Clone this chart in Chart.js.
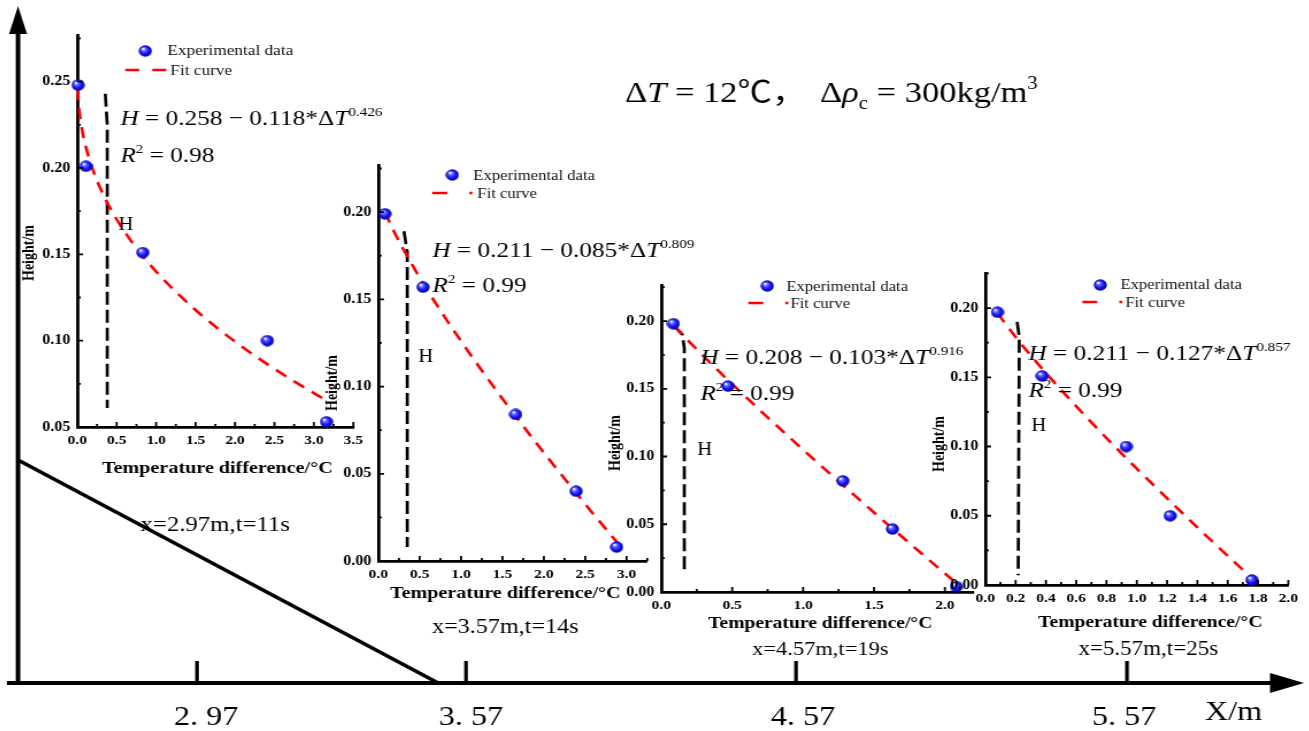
<!DOCTYPE html>
<html>
<head>
<meta charset="utf-8">
<script src="https://cdn.jsdelivr.net/npm/chart.js@4.4.1/dist/chart.umd.min.js"></script>
<style>
  html, body { margin: 0; padding: 0; background: #fff; }
  body { width: 1309px; height: 731px; overflow: hidden; position: relative; }
  canvas { position: absolute; transform-origin: 0 0; }
</style>
</head>
<body>
<canvas id="frame"></canvas>
<canvas id="c1"></canvas>
<canvas id="c2"></canvas>
<canvas id="c3"></canvas>
<canvas id="c4"></canvas>
<script>
// ---- data ----
const deltaT = 12;          // temperature difference, °C
const deltaRho = 300;       // density difference, kg/m3
const stations = ['2. 97', '3. 57', '4. 57', '5. 57'];
const captions = ['x=2.97m,t=11s', 'x=3.57m,t=14s', 'x=4.57m,t=19s', 'x=5.57m,t=25s'];

// measured height vs temperature difference at each station
const dT1 = [0.01, 0.11, 0.83, 2.41, 3.16];
const h1  = [0.248, 0.201, 0.151, 0.100, 0.053];
const dT2 = [0.08, 0.54, 1.66, 2.39, 2.88];
const h2  = [0.199, 0.157, 0.084, 0.040, 0.008];
const dT3 = [0.085, 0.47, 1.28, 1.63, 2.08];
const h3  = [0.198, 0.152, 0.082, 0.0465, 0.004];
const dT4 = [0.08, 0.375, 0.93, 1.22, 1.76];
const h4  = [0.197, 0.151, 0.100, 0.050, 0.0036];

// power-law fits H = a - b * dT^n
const fitA  = [0.258, 0.211, 0.208, 0.211];
const fitB  = [0.118, 0.085, 0.103, 0.127];
const fitN  = [0.426, 0.809, 0.916, 0.857];
const fitR2 = [0.98, 0.99, 0.99, 0.99];

// dT values where each fit curve is sampled
const fitT1 = [0.005, 0.02, 0.05, 0.1, 0.15, 0.2, 0.3, 0.4, 0.5, 0.65, 0.8, 1.0, 1.25, 1.5, 1.75, 2.0, 2.25, 2.5, 2.75, 3.0, 3.15];
const fitT2 = [0.08, 0.2, 0.4, 0.7, 1.0, 1.5, 2.0, 2.5, 2.9];
const fitT3 = [0.09, 0.2, 0.4, 0.7, 1.0, 1.5, 2.0, 2.08];
const fitT4 = [0.08, 0.2, 0.4, 0.7, 1.0, 1.4, 1.8];

// dashed marker of the current height H (dT, height)
const hT1 = [0.355, 0.38, 0.38];
const hH1 = [0.243, 0.225, 0.061];
const hT2 = [0.31, 0.35, 0.35];
const hH2 = [0.189, 0.177, 0.008];
const hT3 = [0.085, 0.148, 0.162, 0.162];
const hH3 = [0.197, 0.190, 0.180, 0.015];
const hT4 = [0.21, 0.224, 0.217];
const hH4 = [0.190, 0.179, 0.007];

// ---- drawing helpers ----
const S = 1.15; // horizontal stretch of the whole figure
const SERIF = "'Liberation Serif', 'Times New Roman', 'Noto Sans CJK SC', serif";

function drawRuns(ctx, runs, x, y, size) {
  ctx.textAlign = 'left';
  ctx.textBaseline = 'alphabetic';
  for (const [text, kind] of runs) {
    let fs = size, dy = 0, style = '';
    if (kind === 'i') style = 'italic ';
    if (kind === 'sup') { fs = size * 0.6; dy = -size * 0.42; }
    if (kind === 'sub') { fs = size * 0.6; dy = size * 0.22; }
    ctx.font = style + fs + 'px ' + SERIF;
    ctx.fillText(text, x, y + dy);
    x += ctx.measureText(text).width;
  }
}

function makeBall(w, h) {
  const c = document.createElement('canvas');
  c.width = w; c.height = h;
  const g = c.getContext('2d');
  const cx = w / 2, cy = h / 2, r = Math.min(w, h) / 2 - 0.3;
  const grad = g.createRadialGradient(cx - r * 0.35, cy - r * 0.4, r * 0.1, cx, cy, r);
  grad.addColorStop(0, '#f2f2ff');
  grad.addColorStop(0.25, '#6464ff');
  grad.addColorStop(0.65, '#1212f2');
  grad.addColorStop(1, '#0000a6');
  g.fillStyle = grad;
  g.beginPath(); g.arc(cx, cy, r, 0, Math.PI * 2); g.fill();
  return c;
}
const ball = makeBall(12, 12);

function placeCanvas(el, left, top, w, h) {
  el.width = w; el.height = h;
  el.style.left = left + 'px';
  el.style.top = top + 'px';
  el.style.width = w + 'px';
  el.style.height = h + 'px';
  el.style.transform = 'scaleX(' + S + ')';
}

// ---- page frame: distance axis, slope and header ----
const frameEl = document.getElementById('frame');
placeCanvas(frameEl, 0, 0, Math.ceil(1309 / S), 731);

const stationX = [197, 466, 796, 1127];
const stationLabelX = [206, 471, 803, 1124];

const framePlugin = {
  id: 'frame',
  afterDraw(chart) {
    const ctx = chart.ctx;
    const P = (x, y) => [x / S, y];
    ctx.save();
    ctx.strokeStyle = '#000';
    ctx.fillStyle = '#000';
    ctx.lineCap = 'butt';

    const line = (a, b, w) => {
      ctx.lineWidth = w;
      ctx.beginPath(); ctx.moveTo(...P(...a)); ctx.lineTo(...P(...b)); ctx.stroke();
    };
    const tri = (a, b, c) => {
      ctx.beginPath(); ctx.moveTo(...P(...a)); ctx.lineTo(...P(...b)); ctx.lineTo(...P(...c));
      ctx.closePath(); ctx.fill();
    };

    line([18, 685], [18, 30], 4);
    tri([18, 6], [9, 34], [27, 34]);
    line([7, 683], [1272, 683], 4);
    tri([1304, 683], [1270, 673], [1270, 693]);
    line([18, 460], [440, 684], 3.4);
    stationX.forEach(x => line([x, 683], [x, 661], 3.2));

    ctx.font = '28px ' + SERIF;
    ctx.textAlign = 'center';
    ctx.textBaseline = 'alphabetic';
    stations.forEach((s, i) => {
      const [x, y] = P(stationLabelX[i], 725);
      ctx.fillText(s, x, y);
    });
    ctx.textAlign = 'left';
    ctx.fillText('X/m', ...P(1205, 720));

    drawRuns(ctx, [['Δ', ''], ['T', 'i'], [' = ', ''], [deltaT + '℃', ''], ['，', '']], ...P(625, 102), 30);
    drawRuns(ctx, [['Δ', ''], ['ρ', 'i'], ['c', 'sub'], [' = ', ''], [deltaRho + 'kg/m', ''], ['3', 'sup']], ...P(820, 102), 30);
    ctx.restore();
  }
};

new Chart(frameEl, {
  type: 'scatter',
  data: { datasets: [] },
  options: {
    responsive: false,
    animation: false,
    events: [],
    plugins: { legend: { display: false }, tooltip: { enabled: false } },
    scales: { x: { display: false }, y: { display: false } }
  },
  plugins: [framePlugin]
});

// ---- the four profile panels ----
const panels = [
  { id: 'c1', area: [77, 35, 353, 427], x: [0, 3.5, 0.5], y: [0.05, 0.277],
    pts: [dT1, h1], fitT: fitT1, hl: [hT1, hH1],
    legend: { ball: [145, 51], t1: [167, 55], dash: [125, 70, 42], pat: [14, 13], t2: [170, 75], size: 15 },
    eq: [120, 125, 162], hText: [118, 230], yTitle: [29, 253], xTitle: [217, 473, 17.5], cap: [215, 531, 21.5] },
  { id: 'c2', area: [378, 165, 647, 561], x: [0, 3.25, 0.5], y: [0, 0.227],
    pts: [dT2, h2], fitT: fitT2, hl: [hT2, hH2],
    legend: { ball: [452, 175], t1: [473, 180], dash: [432, 193, 40], pat: [15, 22], t2: [477, 198], size: 14.5 },
    eq: [432, 257, 292], hText: [418, 362], yTitle: [332, 383], xTitle: [505, 598, 17.5], cap: [505, 633, 21] },
  { id: 'c3', area: [661, 285, 973, 592], x: [0, 2.2, 0.5], y: [0, 0.2266],
    pts: [dT3, h3], fitT: fitT3, hl: [hT3, hH3],
    legend: { ball: [767, 286], t1: [786, 291], dash: [748, 303, 40], pat: [15, 22], t2: [790, 308], size: 14.5 },
    eq: [700, 364, 400], hText: [697, 455], yTitle: [616, 443], xTitle: [820, 628, 17], cap: [820, 655, 19.5] },
  { id: 'c4', area: [985, 273, 1288, 585], x: [0, 2.0, 0.2], y: [0, 0.2253],
    pts: [dT4, h4], fitT: fitT4, hl: [hT4, hH4],
    legend: { ball: [1100, 285], t1: [1120, 289], dash: [1082, 302, 40], pat: [15, 22], t2: [1125, 307], size: 14.5 },
    eq: [1028, 360, 397], hText: [1031, 431], yTitle: [939, 444], xTitle: [1150, 627, 17], cap: [1148, 655, 20] }
];

const PAD_L = 62, PAD_T = 15, PAD_B = 110, PAD_R = 45;

// inward major and minor ticks along the left and bottom axes
const innerTicks = {
  id: 'innerTicks',
  afterDraw(chart) {
    const { ctx, chartArea: a, scales } = chart;
    ctx.save();
    ctx.strokeStyle = '#000';
    ctx.lineWidth = 1.8;
    const xs = scales.x, ys = scales.y;
    const xStep = xs.options.ticks.stepSize, yStep = ys.options.ticks.stepSize;
    ctx.beginPath();
    for (let v = xs.min; v <= xs.max + 1e-9; v += xStep / 2) {
      const px = xs.getPixelForValue(v);
      const major = Math.abs(v / xStep - Math.round(v / xStep)) < 1e-6;
      ctx.moveTo(px, a.bottom); ctx.lineTo(px, a.bottom - (major ? 5 : 3));
    }
    for (let v = ys.min; v <= ys.max + 1e-9; v += yStep / 2) {
      const py = ys.getPixelForValue(v);
      const major = Math.abs(v / yStep - Math.round(v / yStep)) < 1e-6;
      ctx.moveTo(a.left, py); ctx.lineTo(a.left + (major ? 5 : 3), py);
    }
    ctx.stroke();
    ctx.restore();
  }
};

// legend, fit equation, H marker label, axis titles and caption
const panelText = {
  id: 'panelText',
  afterDraw(chart) {
    const p = chart.options.plugins.panelText;
    const i = p.index;
    const ctx = chart.ctx;
    const P = (x, y) => [(x - p.ox) / S, y - p.oy];
    const lg = p.legend;
    ctx.save();

    const [bx, by] = P(...lg.ball);
    ctx.drawImage(ball, bx - ball.width / 2, by - ball.height / 2);
    ctx.fillStyle = '#111';
    ctx.font = lg.size + 'px ' + SERIF;
    ctx.textAlign = 'left';
    ctx.fillText('Experimental data', ...P(...lg.t1));
    ctx.fillText('Fit curve', ...P(...lg.t2));
    ctx.strokeStyle = '#ff0000';
    ctx.lineWidth = 2.6;
    ctx.setLineDash(lg.pat.map(d => d / S));
    ctx.beginPath();
    ctx.moveTo(...P(lg.dash[0], lg.dash[1]));
    ctx.lineTo(...P(lg.dash[0] + lg.dash[2], lg.dash[1]));
    ctx.stroke();
    ctx.setLineDash([]);

    ctx.fillStyle = '#000';
    drawRuns(ctx, [['H', 'i'], [' = ', ''], [fitA[i].toFixed(3), ''], [' − ', ''], [fitB[i].toFixed(3), ''],
      ['*', ''], ['Δ', ''], ['T', 'i'], [fitN[i].toFixed(3), 'sup']], ...P(p.eq[0], p.eq[1]), 22);
    drawRuns(ctx, [['R', 'i'], ['2', 'sup'], [' = ', ''], [fitR2[i].toFixed(2), '']], ...P(p.eq[0], p.eq[2]), 22);

    ctx.font = '18px ' + SERIF;
    ctx.textAlign = 'left';
    ctx.fillText('H', ...P(...p.hText));

    ctx.textAlign = 'center';
    ctx.font = 'bold ' + p.xTitle[2] + 'px ' + SERIF;
    ctx.fillText('Temperature difference/°C', ...P(p.xTitle[0], p.xTitle[1]));
    ctx.font = p.cap[2] + 'px ' + SERIF;
    ctx.fillText(captions[i], ...P(p.cap[0], p.cap[1]));

    const [tx, ty] = P(...p.yTitle);
    ctx.translate(tx, ty);
    ctx.rotate(-Math.PI / 2);
    ctx.font = 'bold 14px ' + SERIF;
    ctx.textBaseline = 'middle';
    ctx.fillText('Height/m', 0, 0);
    ctx.restore();
  }
};

const xTickFont = { family: SERIF, weight: 'bold', size: 13.5 };
const yTickFont = { family: SERIF, weight: 'bold', size: 14 };

panels.forEach((p, i) => {
  const [l, t, r, b] = p.area;
  const innerW = (r - l) / S;
  const w = Math.ceil(PAD_L + innerW + PAD_R);
  const h = Math.ceil(PAD_T + (b - t) + PAD_B);
  const ox = l - PAD_L * S, oy = t - PAD_T;
  const el = document.getElementById(p.id);
  placeCanvas(el, ox, oy, w, h);

  const points = p.pts[0].map((x, k) => ({ x, y: p.pts[1][k] }));
  const fit = p.fitT.map(x => ({ x, y: fitA[i] - fitB[i] * Math.pow(x, fitN[i]) }));
  const marker = p.hl[0].map((x, k) => ({ x, y: p.hl[1][k] }));

  new Chart(el, {
    type: 'scatter',
    data: {
      datasets: [
        { label: 'Experimental data', data: points, pointStyle: ball, pointRadius: 6, clip: false },
        { label: 'Fit curve', data: fit, showLine: true, pointRadius: 0, borderColor: '#ff0000',
          borderWidth: 2.6, borderDash: [11, 8], cubicInterpolationMode: 'monotone', clip: false },
        { label: 'H', data: marker, showLine: true, pointRadius: 0, borderColor: '#000',
          borderWidth: 2.7, borderDash: [13, 5], clip: false }
      ]
    },
    options: {
      responsive: false,
      animation: false,
      events: [],
      layout: { padding: { left: 0, top: PAD_T, right: w - PAD_L - innerW, bottom: 0 } },
      plugins: {
        legend: { display: false },
        tooltip: { enabled: false },
        panelText: Object.assign({ index: i, ox, oy }, p)
      },
      scales: {
        x: {
          type: 'linear', min: p.x[0], max: p.x[1],
          afterFit: s => { s.height = PAD_B; },
          grid: { display: false, drawTicks: false },
          border: { display: true, color: '#000', width: 2.8 },
          ticks: { stepSize: p.x[2], includeBounds: false, autoSkip: false, maxRotation: 0, padding: 5,
            color: '#000', font: xTickFont, callback: v => v.toFixed(1) }
        },
        y: {
          type: 'linear', min: p.y[0], max: p.y[1],
          afterFit: s => { s.width = PAD_L; },
          grid: { display: false, drawTicks: false },
          border: { display: true, color: '#000', width: 2.8 },
          ticks: { stepSize: 0.05, includeBounds: false, padding: 6,
            color: '#000', font: yTickFont, callback: v => v.toFixed(2) }
        }
      }
    },
    plugins: [innerTicks, panelText]
  });
});
</script>
</body>
</html>
